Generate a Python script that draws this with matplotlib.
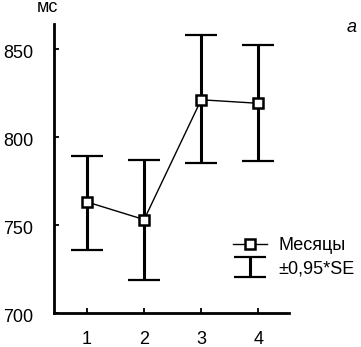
import matplotlib
matplotlib.use("Agg")
import matplotlib.pyplot as plt
import matplotlib.transforms as mtransforms
from matplotlib.legend_handler import HandlerErrorbar

plt.rcParams['font.family'] = ['Liberation Sans', 'DejaVu Sans']

# months and mean reaction time (ms) with 0.95 confidence limits
months = [1, 2, 3, 4]
mean_ms = [763, 753, 821, 819]
upper_ms = [789, 787, 858, 852]
lower_ms = [736, 719, 785, 786]
yticks = [700, 750, 800, 850]

err_lo = [m - l for m, l in zip(mean_ms, lower_ms)]
err_hi = [u - m for m, u in zip(mean_ms, upper_ms)]

fig = plt.figure(figsize=(3.61, 3.47), dpi=100)
ax = fig.add_axes([54/361, 1-313/347, 235/361, 289/347])

# error bars without markers, then line + squares on top
eb = ax.errorbar(months, mean_ms, yerr=[err_lo, err_hi], fmt='none',
                 ecolor='black', elinewidth=2.2, capsize=11.5, capthick=1.6)
line, = ax.plot(months, mean_ms, color='black', lw=1.0, marker='s',
                ms=7.5, mfc='white', mec='black', mew=1.8, zorder=3)

ax.set_xlim(0.42, 4.54)
ax.set_ylim(700, 864)
ax.set_xticks(months)
ax.set_yticks(yticks)
for s in ['top', 'right']:
    ax.spines[s].set_visible(False)
for s in ['left', 'bottom']:
    ax.spines[s].set_linewidth(2)
ax.tick_params(direction='in', length=3.5, width=1.3, labelsize=13)
ax.tick_params(axis='y', pad=15)
ax.tick_params(axis='x', pad=13)

# y labels sit a little below their ticks in the original
shift = mtransforms.ScaledTranslation(0, -3/100, fig.dpi_scale_trans)
for lab in ax.get_yticklabels():
    lab.set_transform(lab.get_transform() + shift)

ax.legend([line, eb], ['Месяцы', '±0,95*SE'], frameon=False, fontsize=13,
          loc='upper left', bbox_to_anchor=(0.762, 0.263), borderpad=0,
          borderaxespad=0, handlelength=1.9, handletextpad=0.6,
          labelspacing=0.35,
          handler_map={type(eb): HandlerErrorbar(yerr_size=0.55)})

fig.text(47/361, 1-12/347, 'мс', fontsize=13, ha='center', va='baseline')
fig.text(352/361, 1-28/347, 'а', fontsize=13, style='italic',
         ha='center', va='center')

fig.savefig('out.png', dpi=100)
